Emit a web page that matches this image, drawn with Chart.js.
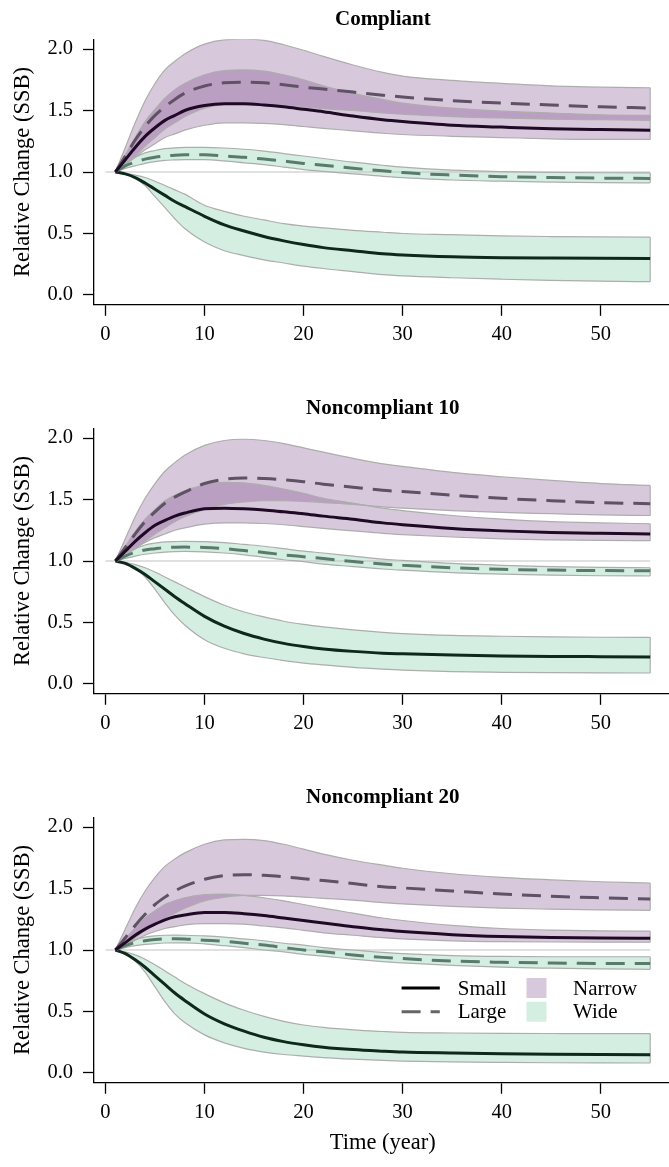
<!DOCTYPE html>
<html><head><meta charset="utf-8">
<script src="https://cdn.jsdelivr.net/npm/chart.js@4/dist/chart.umd.min.js"></script>
<style>
html,body{margin:0;padding:0;background:#fff;overflow:hidden;width:669px;height:1167px;position:relative}
.p{position:absolute;left:0;width:680px;height:389px}
canvas{display:block}
</style></head><body>
<div class="p" style="top:0"><canvas id="c0" width="680" height="389"></canvas></div>
<div class="p" style="top:389px"><canvas id="c1" width="680" height="389"></canvas></div>
<div class="p" style="top:778px"><canvas id="c2" width="680" height="389"></canvas></div>
<script>
// ---------- data ----------
const panelTitles = ['Compliant', 'Noncompliant 10', 'Noncompliant 20'];
const years = [1,2,3,4,5,6,7,8,10,12,14,16,18,20,22,25,28,30,35,40,45,50,55];
const xTicks = [0,10,20,30,40,50];
const yTicks = [0,0.5,1,1.5,2];
const yTickLabels = ['0.0','0.5','1.0','1.5','2.0'];
const legendLineLabels = ['Small','Large'];
const legendFillLabels = ['Narrow','Wide'];
const refLineX = [0,55];
const refLineY = [1,1];

// Compliant
const c_narrowSmall = [1.00,1.10,1.20,1.29,1.36,1.42,1.46,1.50,1.54,1.555,1.555,1.545,1.53,1.51,1.49,1.455,1.425,1.41,1.38,1.365,1.352,1.345,1.34];
const c_narrowSmallHi = [1.00,1.14,1.28,1.41,1.51,1.60,1.67,1.72,1.79,1.825,1.83,1.82,1.79,1.75,1.70,1.64,1.59,1.56,1.52,1.495,1.48,1.465,1.46];
const c_narrowSmallLo = [1.00,1.06,1.12,1.18,1.23,1.28,1.31,1.34,1.38,1.40,1.40,1.395,1.385,1.37,1.355,1.335,1.315,1.305,1.29,1.28,1.27,1.265,1.265];
const c_narrowLarge = [1.00,1.13,1.26,1.37,1.46,1.53,1.59,1.64,1.70,1.725,1.73,1.725,1.71,1.69,1.675,1.65,1.625,1.61,1.58,1.56,1.545,1.53,1.52];
const c_narrowLargeHi = [1.00,1.20,1.40,1.58,1.72,1.83,1.90,1.96,2.04,2.075,2.08,2.07,2.035,1.99,1.94,1.87,1.81,1.78,1.745,1.72,1.70,1.69,1.685];
const c_narrowLargeLo = [1.00,1.06,1.13,1.21,1.28,1.35,1.40,1.45,1.52,1.55,1.56,1.555,1.545,1.53,1.515,1.50,1.48,1.47,1.45,1.44,1.43,1.425,1.42];
const c_wideLarge = [1.00,1.05,1.08,1.105,1.12,1.13,1.137,1.14,1.14,1.13,1.12,1.105,1.09,1.07,1.055,1.03,1.01,0.995,0.975,0.962,0.955,0.95,0.948];
const c_wideLargeHi = [1.00,1.07,1.12,1.155,1.175,1.19,1.197,1.20,1.20,1.195,1.185,1.17,1.15,1.13,1.11,1.08,1.055,1.04,1.015,1.003,0.997,0.994,0.993];
const c_wideLargeLo = [1.00,1.03,1.05,1.07,1.085,1.095,1.098,1.10,1.10,1.09,1.075,1.06,1.04,1.02,1.005,0.985,0.965,0.955,0.935,0.925,0.918,0.913,0.912];
const c_wideSmall = [1.00,0.985,0.955,0.91,0.86,0.81,0.76,0.72,0.64,0.57,0.52,0.475,0.44,0.41,0.385,0.36,0.335,0.325,0.31,0.303,0.30,0.298,0.297];
const c_wideSmallHi = [1.00,0.99,0.975,0.955,0.925,0.89,0.855,0.82,0.73,0.68,0.64,0.61,0.58,0.56,0.545,0.525,0.51,0.50,0.49,0.48,0.475,0.472,0.47];
const c_wideSmallLo = [1.00,0.985,0.95,0.89,0.80,0.71,0.62,0.54,0.43,0.36,0.32,0.285,0.26,0.235,0.215,0.19,0.165,0.155,0.14,0.128,0.118,0.112,0.108];

// Noncompliant 10
const n10_narrowSmall = [1.00,1.08,1.16,1.23,1.29,1.33,1.365,1.39,1.425,1.43,1.425,1.415,1.40,1.385,1.365,1.34,1.31,1.295,1.265,1.245,1.232,1.225,1.22];
const n10_narrowSmallHi = [1.00,1.12,1.24,1.34,1.42,1.49,1.535,1.57,1.62,1.64,1.635,1.615,1.585,1.55,1.51,1.47,1.43,1.41,1.37,1.34,1.32,1.31,1.303];
const n10_narrowSmallLo = [1.00,1.05,1.10,1.15,1.19,1.22,1.25,1.27,1.30,1.31,1.31,1.305,1.295,1.28,1.265,1.245,1.225,1.215,1.195,1.18,1.172,1.167,1.165];
const n10_narrowLarge = [1.00,1.11,1.22,1.32,1.40,1.47,1.52,1.56,1.63,1.665,1.675,1.67,1.66,1.645,1.625,1.60,1.575,1.565,1.535,1.51,1.49,1.475,1.466];
const n10_narrowLargeHi = [1.00,1.18,1.36,1.51,1.63,1.73,1.80,1.86,1.94,1.98,1.99,1.98,1.955,1.92,1.885,1.835,1.79,1.77,1.72,1.685,1.655,1.63,1.615];
const n10_narrowLargeLo = [1.00,1.05,1.10,1.16,1.22,1.27,1.32,1.36,1.42,1.46,1.48,1.49,1.49,1.485,1.475,1.46,1.44,1.43,1.41,1.395,1.385,1.375,1.37];
const n10_wideLarge = [1.00,1.04,1.07,1.09,1.10,1.11,1.112,1.113,1.11,1.10,1.085,1.07,1.05,1.035,1.02,0.995,0.975,0.965,0.945,0.932,0.926,0.922,0.92];
const n10_wideLargeHi = [1.00,1.06,1.10,1.13,1.145,1.155,1.158,1.16,1.158,1.15,1.135,1.12,1.10,1.08,1.065,1.04,1.015,1.005,0.98,0.965,0.955,0.948,0.945];
const n10_wideLargeLo = [1.00,1.02,1.04,1.055,1.065,1.072,1.076,1.078,1.075,1.065,1.05,1.03,1.01,0.995,0.975,0.955,0.935,0.925,0.905,0.893,0.885,0.88,0.878];
const n10_wideSmall = [1.00,0.98,0.94,0.89,0.83,0.77,0.71,0.655,0.55,0.47,0.41,0.365,0.33,0.305,0.285,0.265,0.25,0.245,0.235,0.228,0.224,0.222,0.22];
const n10_wideSmallHi = [1.00,0.99,0.97,0.945,0.91,0.87,0.83,0.79,0.71,0.64,0.585,0.545,0.51,0.485,0.465,0.44,0.42,0.41,0.395,0.388,0.383,0.38,0.379];
const n10_wideSmallLo = [1.00,0.98,0.94,0.87,0.77,0.66,0.56,0.48,0.36,0.29,0.245,0.215,0.19,0.17,0.155,0.135,0.12,0.112,0.10,0.095,0.092,0.09,0.089];

// Noncompliant 20
const n20_narrowSmall = [1.00,1.06,1.12,1.17,1.21,1.245,1.27,1.285,1.305,1.305,1.295,1.28,1.26,1.24,1.22,1.19,1.165,1.15,1.125,1.11,1.102,1.098,1.096];
const n20_narrowSmallHi = [1.00,1.09,1.18,1.26,1.32,1.37,1.40,1.425,1.45,1.455,1.445,1.425,1.40,1.37,1.34,1.30,1.26,1.24,1.20,1.175,1.162,1.155,1.153];
const n20_narrowSmallLo = [1.00,1.04,1.08,1.12,1.15,1.175,1.19,1.205,1.215,1.215,1.21,1.195,1.18,1.16,1.14,1.12,1.10,1.09,1.075,1.068,1.065,1.064,1.064];
const n20_narrowLarge = [1.00,1.10,1.20,1.29,1.37,1.43,1.48,1.52,1.575,1.605,1.612,1.607,1.595,1.58,1.565,1.54,1.515,1.505,1.48,1.455,1.437,1.425,1.415];
const n20_narrowLargeHi = [1.00,1.17,1.34,1.48,1.59,1.68,1.74,1.79,1.86,1.895,1.90,1.89,1.86,1.82,1.78,1.73,1.69,1.665,1.62,1.59,1.57,1.555,1.545];
const n20_narrowLargeLo = [1.00,1.05,1.10,1.16,1.21,1.26,1.30,1.34,1.40,1.43,1.445,1.445,1.44,1.43,1.42,1.405,1.385,1.375,1.355,1.34,1.332,1.326,1.323];
const n20_wideLarge = [1.00,1.035,1.06,1.075,1.085,1.09,1.091,1.09,1.08,1.07,1.055,1.04,1.02,1.00,0.985,0.96,0.94,0.93,0.91,0.90,0.894,0.891,0.89];
const n20_wideLargeHi = [1.00,1.05,1.085,1.105,1.115,1.12,1.121,1.12,1.115,1.105,1.09,1.075,1.055,1.04,1.02,1.00,0.98,0.97,0.955,0.948,0.945,0.945,0.945];
const n20_wideLargeLo = [1.00,1.02,1.035,1.045,1.052,1.057,1.058,1.058,1.05,1.035,1.02,1.00,0.985,0.965,0.95,0.925,0.905,0.895,0.875,0.86,0.852,0.846,0.843];
const n20_wideSmall = [1.00,0.97,0.92,0.86,0.79,0.72,0.65,0.59,0.48,0.40,0.34,0.29,0.255,0.23,0.21,0.19,0.177,0.17,0.162,0.156,0.152,0.15,0.149];
const n20_wideSmallHi = [1.00,0.985,0.96,0.925,0.88,0.83,0.78,0.73,0.645,0.57,0.51,0.46,0.42,0.39,0.37,0.35,0.337,0.33,0.325,0.322,0.321,0.32,0.32];
const n20_wideSmallLo = [1.00,0.97,0.91,0.82,0.70,0.58,0.48,0.41,0.31,0.245,0.20,0.17,0.15,0.137,0.125,0.112,0.102,0.097,0.09,0.086,0.083,0.082,0.081];

const panels = [
  {narrowSmall:[c_narrowSmall,c_narrowSmallHi,c_narrowSmallLo], narrowLarge:[c_narrowLarge,c_narrowLargeHi,c_narrowLargeLo],
   wideLarge:[c_wideLarge,c_wideLargeHi,c_wideLargeLo], wideSmall:[c_wideSmall,c_wideSmallHi,c_wideSmallLo]},
  {narrowSmall:[n10_narrowSmall,n10_narrowSmallHi,n10_narrowSmallLo], narrowLarge:[n10_narrowLarge,n10_narrowLargeHi,n10_narrowLargeLo],
   wideLarge:[n10_wideLarge,n10_wideLargeHi,n10_wideLargeLo], wideSmall:[n10_wideSmall,n10_wideSmallHi,n10_wideSmallLo]},
  {narrowSmall:[n20_narrowSmall,n20_narrowSmallHi,n20_narrowSmallLo], narrowLarge:[n20_narrowLarge,n20_narrowLargeHi,n20_narrowLargeLo],
   wideLarge:[n20_wideLarge,n20_wideLargeHi,n20_wideLargeLo], wideSmall:[n20_wideSmall,n20_wideSmallHi,n20_wideSmallLo]}
];

// ---------- style ----------
const SERIF = "'Liberation Serif','Times New Roman',Times,serif";
const FILL_NARROW = 'rgba(103,40,118,0.256)';
const FILL_WIDE = 'rgba(87,189,142,0.256)';
const RIBBON_EDGE = '#adadad';
const COL = {narrowSmall:'#1e0a24', narrowLarge:'#5e5264', wideLarge:'#5a7b6b', wideSmall:'#0e281b'};
const DASH = [19,10];

const pts = arr => years.map((x,i)=>({x:x, y:arr[i]}));

function buildDatasets(p){
  const ds = [];
  const lineDs = (arr,color,dashed) => ({data:pts(arr), borderColor:color, borderWidth:3, borderDash: dashed?DASH:[], fill:false, pointRadius:0, cubicInterpolationMode:'monotone', borderCapStyle:'butt'});
  ds.push(lineDs(p.narrowSmall[0], COL.narrowSmall, false));
  ds.push(lineDs(p.narrowLarge[0], COL.narrowLarge, true));
  ds.push(lineDs(p.wideLarge[0], COL.wideLarge, true));
  ds.push(lineDs(p.wideSmall[0], COL.wideSmall, false));
  const ribbons = [[p.narrowSmall,FILL_NARROW],[p.narrowLarge,FILL_NARROW],[p.wideLarge,FILL_WIDE],[p.wideSmall,FILL_WIDE]];
  ribbons.forEach(([s,fc])=>{
    const hiIdx = ds.length;
    ds.push({data:pts(s[1]), borderColor:RIBBON_EDGE, borderWidth:1.2, pointRadius:0, cubicInterpolationMode:'monotone',
             fill:{target:hiIdx+1, above:fc, below:fc}});
    ds.push({data:pts(s[2]), borderColor:RIBBON_EDGE, borderWidth:1.2, pointRadius:0, cubicInterpolationMode:'monotone', fill:false});
    const n = years.length-1;
    ds.push({data:[{x:years[n],y:s[2][n]},{x:years[n],y:s[1][n]}], borderColor:RIBBON_EDGE, borderWidth:1.2, pointRadius:0, fill:false});
  });
  ds.push({data:refLineX.map((x,i)=>({x:x,y:refLineY[i]})), borderColor:'#c2c2c2', borderWidth:1.2, pointRadius:0, fill:false});
  return ds;
}

const legendPlugin = {
  id:'ribbonLegend',
  afterDraw(chart){
    const ctx = chart.ctx;
    ctx.save();
    const rows = [210, 233.7];
    ctx.font = '21px ' + SERIF;
    ctx.fillStyle = '#000';
    ctx.textBaseline = 'middle';
    ctx.textAlign = 'left';
    // line keys
    legendLineLabels.forEach((lab,i)=>{
      ctx.beginPath();
      ctx.lineWidth = 3;
      ctx.lineCap = 'butt';
      ctx.strokeStyle = i===0 ? '#000' : '#666';
      ctx.setLineDash(i===0 ? [] : DASH);
      ctx.moveTo(401.6, rows[i]); ctx.lineTo(439.8, rows[i]);
      ctx.stroke();
      ctx.setLineDash([]);
      ctx.fillText(lab, 457.7, rows[i]+1);
    });
    legendFillLabels.forEach((lab,i)=>{
      ctx.fillStyle = '#fff';
      ctx.fillRect(526.5, rows[i]-10, 20, 20);
      ctx.fillStyle = i===0 ? FILL_NARROW : FILL_WIDE;
      ctx.fillRect(526.5, rows[i]-10, 20, 20);
      ctx.fillStyle = '#000';
      ctx.fillText(lab, 573, rows[i]+1);
    });
    ctx.restore();
  }
};

panels.forEach((p,k)=>{
  const isLast = k===panels.length-1;
  new Chart(document.getElementById('c'+k), {
    type:'line',
    data:{datasets:buildDatasets(p)},
    options:{
      responsive:false, animation:false, events:[],
      layout:{padding:{left:0,right:8.4,top:0,bottom:0}},
      plugins:{
        legend:{display:false}, tooltip:{enabled:false},
        filler:{drawTime:'beforeDatasetsDraw', propagate:false},
        title:{display:true, text:panelTitles[k], fullSize:false, color:'#000',
               font:{family:SERIF, size:21, weight:'bold', lineHeight:1.2}, padding:{top:7.4,bottom:6.6}}
      },
      scales:{
        x:{type:'linear', min:-1.16, max:57.16,
           afterBuildTicks:s=>{ s.ticks = xTicks.map(v=>({value:v})); },
           afterFit:s=>{ s.height = 84.2; },
           grid:{display:true, drawOnChartArea:false, drawTicks:true, tickLength:11, color:'#000', tickColor:'#000', tickWidth:1.3},
           border:{display:true, color:'#000', width:1.3},
           ticks:{color:'#000', padding:7, maxRotation:0, autoSkip:false, font:{family:SERIF, size:20.5},
                  callback:(v)=>String(v)},
           title:{display:isLast, text:'Time (year)', color:'#000', font:{family:SERIF, size:22.5, lineHeight:1.2}, padding:{top:0,bottom:10.8}}
        },
        y:{type:'linear', min:-0.08, max:2.08,
           afterBuildTicks:s=>{ s.ticks = yTicks.map(v=>({value:v})); },
           afterFit:s=>{ s.width = 94; },
           grid:{display:true, drawOnChartArea:false, drawTicks:true, tickLength:11, color:'#000', tickColor:'#000', tickWidth:1.3},
           border:{display:true, color:'#000', width:1.3},
           ticks:{color:'#000', padding:10, autoSkip:false, font:{family:SERIF, size:20.5},
                  callback:(v,i)=>yTickLabels[i]},
           title:{display:true, text:'Relative Change (SSB)', color:'#000', font:{family:SERIF, size:22.5, lineHeight:1.2}, padding:{top:9.2,bottom:0}}
        }
      }
    },
    plugins: isLast ? [legendPlugin] : []
  });
});
</script>
</body></html>
